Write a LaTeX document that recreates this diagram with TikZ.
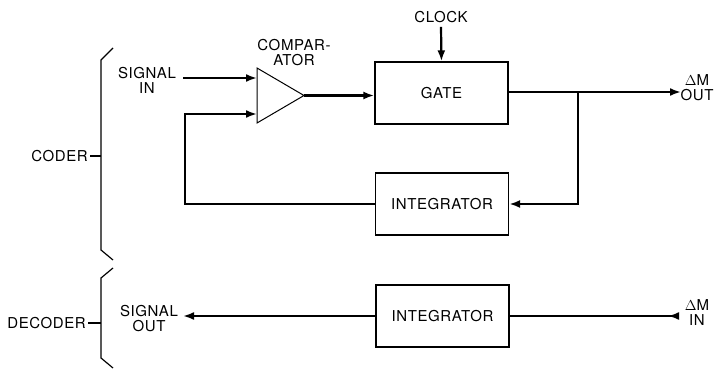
\documentclass[tikz,border=0pt]{standalone}
\usepackage{fontspec}
\setmainfont{TeX Gyre Heros}[LetterSpace=4]
\usetikzlibrary{arrows.meta}
\begin{document}
\begin{tikzpicture}[x=1pt,y=-1pt,
  lbl/.style={font=\fontsize{15}{15}\selectfont,align=center,inner sep=0pt},
  blk/.style={draw,line width=1.3pt,minimum width=133pt,minimum height=62pt,inner sep=0pt,font=\fontsize{15}{15}\selectfont},
  conn/.style={line width=2.2pt},
  arr/.style={conn,-{Latex[length=11pt,width=8pt]}},
  brc/.style={line width=1.2pt}]
\useasboundingbox (0,0) rectangle (716,369);
% nodes
\node[blk] (gate) at (441.5,93) {GATE};
\node[blk] (int1) at (442,204) {INTEGRATOR};
\node[blk] (int2) at (442.5,316) {INTEGRATOR};
\coordinate (ct) at (257,68);
\coordinate (cb) at (257,123);
\coordinate (cr) at (304,95.5);
\draw[line width=1pt] (ct) -- (cr) -- (cb) -- cycle;
\coordinate (cin1) at (257,78);
\coordinate (cin2) at (257,114);
\node[lbl] (compl) at (294,53) {COMPAR-\\ATOR};
\node[lbl] (sigin) at (147,80) {SIGNAL\\IN};
\node[lbl] (clock) at (441,17) {CLOCK};
\node[lbl] (dmout) at (697,88) {$\Delta$M\\OUT};
\node[lbl] (dmin) at (697,313) {$\Delta$M\\IN};
\node[lbl] (sigout) at (149,319) {SIGNAL\\OUT};
\node[lbl,anchor=east] (coder) at (88,156) {CODER};
\node[lbl,anchor=east] (decoder) at (86,323) {DECODER};
% connectors
\coordinate (sinS) at (183,78);
\draw[arr] (sinS) -- (cin1);
\draw[arr] (cr) -- (gate.west |- cr);
\draw[arr] (clock.south) ++(0,4) -- (gate.north);
\coordinate (junc) at (578,92);
\coordinate (dmoutE) at (681,92);
\draw[arr] (gate.east |- junc) -- (dmoutE);
\draw[arr] (junc) |- (int1.east);
\coordinate (fbx) at (185,204);
\draw[arr] (int1.west) -- (fbx) |- (cin2);
\coordinate (dminS) at (679,316);
\draw[conn,{Latex[length=11pt,width=8pt,reversed]}-] (dminS) -- (int2.east);
\coordinate (soutE) at (183,316);
\draw[arr] (int2.west) -- (soutE);
% braces
\draw[brc] (113,48) -- (101,60) -- (101,250) -- (113,260);
\draw[brc] (coder.east) ++(2,0) -- (101,156);
\draw[brc] (113,268) -- (101,278) -- (101,358) -- (113,368);
\draw[brc] (decoder.east) ++(2,0) -- (101,323);
\end{tikzpicture}
\end{document}
